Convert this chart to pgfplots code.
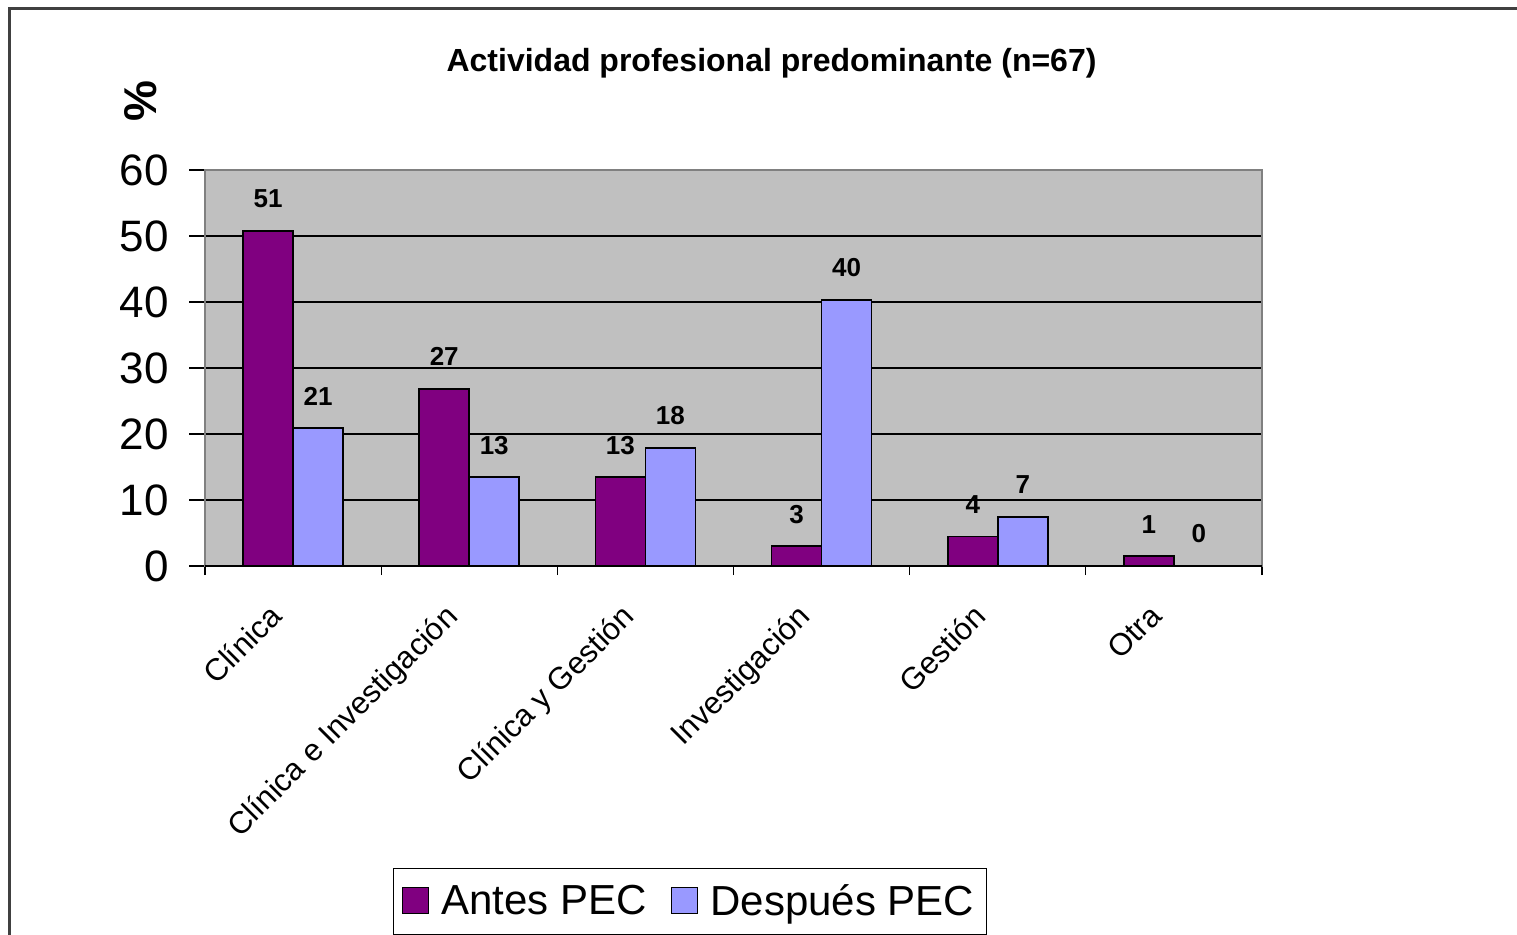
\documentclass[border=0pt]{standalone}
\usepackage{pgfplots}
\pgfplotsset{compat=1.18}
\usepackage{fontspec}
\setmainfont{Liberation Sans}
\definecolor{antes}{HTML}{800080}
\definecolor{despues}{HTML}{9999FF}
\definecolor{plotbg}{HTML}{C0C0C0}
\begin{document}
\begin{tikzpicture}
\path[use as bounding box] (0,0) rectangle (758.5pt,467pt);
\draw[line width=1.5pt, color=black!75] (4.5pt,-2pt) -- (4.5pt,462.5pt) -- (762pt,462.5pt);
\begin{axis}[
  at={(102.5pt,184pt)}, anchor=south west,
  scale only axis, width=528.5pt, height=198pt,
  ybar=0pt, bar width=25pt,
  xmin=-0.5, xmax=5.5, ymin=0, ymax=60,
  ytick={0,10,...,60},
  xtick={0,...,5},
  xticklabels={Clínica, Clínica e Investigación, Clínica y Gestión, Investigación, Gestión, Otra},
  minor xtick={-0.5,0.5,...,5.5},
  major x tick style={draw=none},
  tick align=outside,
  major tick length=8pt, minor tick length=4.5pt,
  xtick pos=bottom, ytick pos=left,
  tick style={black, line width=0.6pt},
  ymajorgrids, major grid style={black, line width=0.6pt},
  axis background/.style={fill=plotbg},
  axis line style={draw=black!50, line width=1pt},
  /pgf/number format/assume math mode=true,
  yticklabel style={font=\fontsize{22}{26}\selectfont, anchor=east, inner sep=0pt, xshift=-10pt},
  xticklabel style={font=\fontsize{15.5}{18}\selectfont, inner sep=0pt, xshift=-13pt, yshift=-10pt, rotate=45, anchor=north east},
  title={Actividad profesional predominante (n=67)},
  title style={at={(axis description cs:0.536,1.275)}, anchor=center, yshift=-7pt, font=\bfseries\fontsize{16}{19}\selectfont},
  ylabel={\%},
  ylabel style={at={(axis description cs:-0.0605,1.174)}, anchor=center, font=\bfseries\fontsize{23}{26}\selectfont},
  nodes near coords={\pgfmathprintnumber[fixed,precision=0,assume math mode=true]{\pgfplotspointmeta}},
  every node near coord/.append style={font=\bfseries\fontsize{13}{15}\selectfont, anchor=south, inner sep=0pt, yshift=11pt, black},
  legend style={at={(axis description cs:0.4588,-0.7626)}, anchor=north, legend columns=2, draw=black, line width=0.6pt,
    font=\fontsize{21}{24}\selectfont, inner xsep=4pt, inner ysep=6pt,
    /tikz/every odd column/.append style={column sep=4pt},
    /tikz/every even column/.append style={column sep=10pt}},
  legend image code/.code={\draw[#1, draw=black, line width=0.8pt] (0pt,-6pt) rectangle (13pt,7pt);},
]
\addplot[fill=antes, draw=black, line width=0.9pt] coordinates {(0,50.746) (1,26.866) (2,13.433) (3,2.985) (4,4.478) (5,1.493)};
\addplot[fill=despues, draw=black, line width=0.9pt] coordinates {(0,20.896) (1,13.433) (2,17.910) (3,40.299) (4,7.463) (5,0)};
\legend{Antes PEC, Después PEC}
\draw[black, line width=0.6pt] (axis cs:-0.5,0) -- (axis cs:5.5,0);
\end{axis}
\end{tikzpicture}
\end{document}
